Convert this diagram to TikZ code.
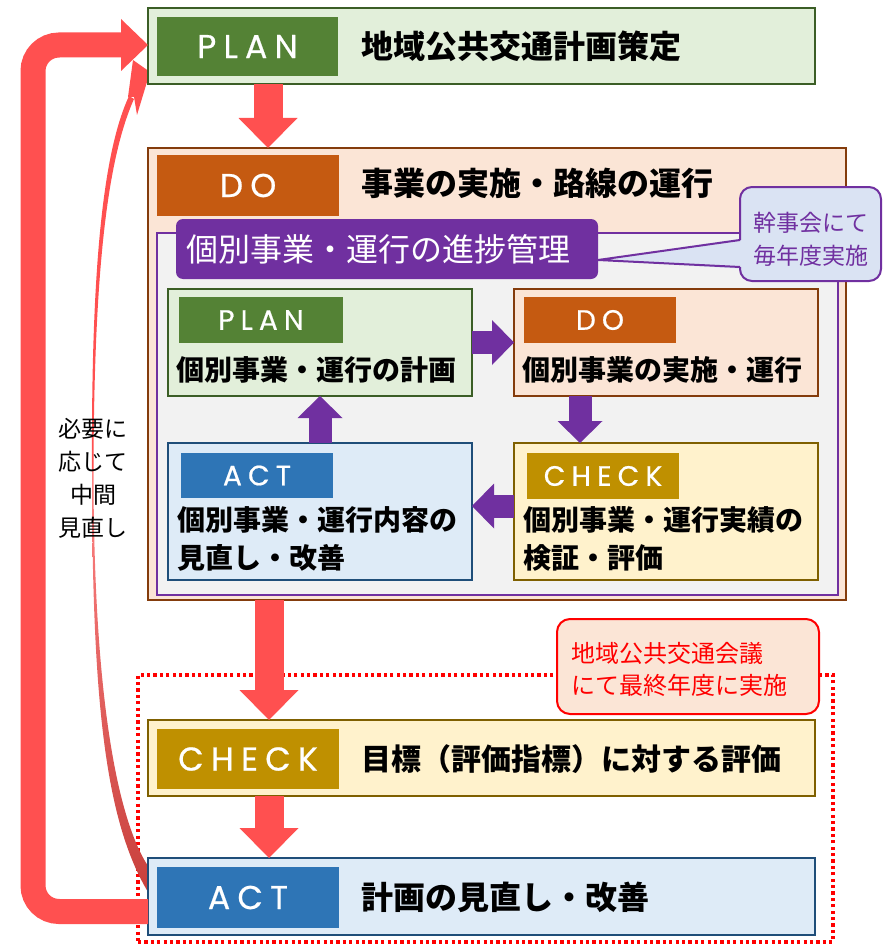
\documentclass[tikz,border=0pt]{standalone}
\usepackage{fontspec}
\setmainfont{Noto Sans CJK JP}
\newfontfamily\labfont[FakeBold=0.6]{Poppins}
\usetikzlibrary{arrows.meta}
\definecolor{planlab}{HTML}{548235}
\definecolor{planfill}{HTML}{E2EFDA}
\definecolor{planborder}{HTML}{3B5E26}
\definecolor{dolab}{HTML}{C55A11}
\definecolor{dofill}{HTML}{FBE5D6}
\definecolor{doborder}{HTML}{843C0C}
\definecolor{checklab}{HTML}{BF9000}
\definecolor{checkfill}{HTML}{FFF2CC}
\definecolor{checkborder}{HTML}{7F6000}
\definecolor{actlab}{HTML}{2E75B6}
\definecolor{actfill}{HTML}{DEEBF7}
\definecolor{actborder}{HTML}{1F4E79}
\definecolor{mypurple}{HTML}{7030A0}
\definecolor{innerfill}{HTML}{F2F2F2}
\definecolor{arrowred}{HTML}{FF5050}
\definecolor{darkarrow}{HTML}{C8403C}
\definecolor{calloutblue}{HTML}{DAE3F3}
\newcommand\ls{\hspace{0.22em}}
\newcommand\fmain{\bfseries\fontsize{32}{36}\selectfont}
\newcommand\finner{\bfseries\fontsize{28}{38}\selectfont}
\newcommand\fbiglab{\labfont\fontsize{33}{33}\selectfont}
\newcommand\fsmalllab{\labfont\fontsize{28}{28}\selectfont}
\begin{document}
\begin{tikzpicture}[x=1pt,y=-1pt,
  box/.style={draw, line width=2pt, inner sep=0pt, outer sep=0pt, anchor=north west},
  lab/.style={inner sep=0pt, outer sep=0pt, anchor=north west, text=white},
  bigred/.style={draw=arrowred, line width=29pt, -{Triangle[length=30pt,width=59pt,line width=0pt]}},
  purparrow/.style={draw=mypurple, line width=23pt, -{Triangle[length=22pt,width=45pt,line width=0pt]}},
  looparrow/.style={draw=arrowred, line width=25pt, rounded corners=26pt, -{Triangle[length=27pt,width=52pt,line width=0pt]}},
  maintxt/.style={anchor=west, inner sep=0pt, font=\fmain},
  innertxt/.style={anchor=west, inner sep=0pt, align=left, font=\finner},
]
\useasboundingbox (0,0) rectangle (884,944);

% dotted meeting frame
\node[draw=red, line width=3.2pt, dash pattern=on 3.2pt off 3.2pt, inner sep=0pt, outer sep=0pt,
      minimum width=695pt, minimum height=267pt, anchor=north west] (meeting) at (138,675) {};

% thin curved arrow (mid-term review)
\fill[arrowred] (92,470) .. controls (91,260) and (104,150) .. (129,96) -- (134,99) .. controls (109,155) and (94,260) .. (93.5,470) -- cycle;
\fill[arrowred] (133,60) -- (150,72) -- (137,115) -- (134,97) -- (128,97) -- cycle;
\shade[top color=arrowred!70, bottom color=darkarrow] (92,470) .. controls (92,700) and (105,820) .. (148,892) -- (148,866) .. controls (118,820) and (93.5,700) .. (93.5,470) -- cycle;

% main boxes
\node[box, fill=planfill, draw=planborder, minimum width=667pt, minimum height=76pt] (plan) at (148,8) {};
\node[box, fill=dofill, draw=doborder, minimum width=698pt, minimum height=452pt] (do) at (148,148) {};
\node[box, fill=checkfill, draw=checkborder, minimum width=667pt, minimum height=76pt] (check) at (148,720) {};
\node[box, fill=actfill, draw=actborder, minimum width=667pt, minimum height=77pt] (act) at (148,858) {};

% big loop arrow
\draw[looparrow] ([yshift=-15pt]act.west) -| ([xshift=-115pt,yshift=1pt]plan.west) -- ([yshift=1pt]plan.west);

% labels
\node[lab, fill=planlab, minimum width=181pt, minimum height=59pt, font=\fbiglab] (planlab) at (157,17) {P\ls L\ls A\ls N};
\node[maintxt] (plantxt) at (361,46) {地域公共交通計画策定};
\node[lab, fill=dolab, minimum width=182pt, minimum height=61pt, font=\fbiglab] (dolab) at (157,155) {D\ls O};
\node[maintxt] (dotxt) at (361,183) {事業の実施・路線の運行};
\node[lab, fill=checklab, minimum width=182pt, minimum height=60pt, font=\fbiglab] (checklab) at (157,729) {C\ls H\ls E\ls C\ls K};
\node[maintxt, font=\bfseries\fontsize{30}{36}\selectfont] (checktxt) at (361,759) {目標（評価指標）に対する評価};
\node[lab, fill=actlab, minimum width=182pt, minimum height=61pt, font=\fbiglab] (actlab) at (157,867) {A\ls C\ls T};
\node[maintxt] (acttxt) at (361,897) {計画の見直し・改善};

% inner progress frame
\node[box, fill=innerfill, draw=mypurple, line width=2.5pt, minimum width=681pt, minimum height=362pt] (inner) at (157,233) {};
\node[anchor=north west, fill=mypurple, rounded corners=7pt, inner sep=0pt, outer sep=0pt,
      minimum width=422pt, minimum height=60pt] (hdr) at (176,219) {};
\node[anchor=west, inner sep=0pt, text=white, font=\fontsize{32}{36}\selectfont] (hdrtxt) at (186,249) {個別事業・運行の進捗管理};

% callout (blue)
\fill[calloutblue] ([yshift=-11pt]hdr.east) -- (745,238) -- (745,269) -- cycle;
\node[anchor=north west, draw=mypurple, line width=2pt, fill=calloutblue, rounded corners=12pt, inner sep=0pt, outer sep=0pt,
      minimum width=141pt, minimum height=94pt] (callout) at (740,187) {};
\fill[calloutblue] ([yshift=-11pt]hdr.east) -- (742.5,240) -- (742.5,267) -- cycle;
\draw[mypurple, line width=2pt, line join=round] (740,240) -- ([yshift=-11pt]hdr.east) -- (740,267);
\node[align=center, text=mypurple, inner sep=0pt, font=\fontsize{23}{33}\selectfont] (callouttxt) at (811,239) {幹事会にて\\毎年度実施};

% inner boxes
\node[box, fill=planfill, draw=planborder, minimum width=304pt, minimum height=107pt] (iplan) at (168,289) {};
\node[lab, fill=planlab, minimum width=164pt, minimum height=46pt, font=\fsmalllab] (iplanlab) at (179,297) {P\ls L\ls A\ls N};
\node[innertxt] (iplantxt) at (176,370) {個別事業・運行の計画};

\node[box, fill=dofill, draw=doborder, minimum width=304pt, minimum height=107pt] (ido) at (514,289) {};
\node[lab, fill=dolab, minimum width=152pt, minimum height=46pt, font=\fsmalllab] (idolab) at (524,297) {D\ls O};
\node[innertxt] (idotxt) at (522,370) {個別事業の実施・運行};

\node[box, fill=checkfill, draw=checkborder, minimum width=304pt, minimum height=137pt] (icheck) at (514,443) {};
\node[lab, fill=checklab, minimum width=152pt, minimum height=46pt, font=\fsmalllab] (ichecklab) at (527,453) {C\ls H\ls E\ls C\ls K};
\node[innertxt] (ichecktxt) at (523,539) {個別事業・運行実績の\\検証・評価};

\node[box, fill=actfill, draw=actborder, minimum width=304pt, minimum height=137pt] (iact) at (168,443) {};
\node[lab, fill=actlab, minimum width=152pt, minimum height=45pt, font=\fsmalllab] (iactlab) at (181,453) {A\ls C\ls T};
\node[innertxt] (iacttxt) at (177,539) {個別事業・運行内容の\\見直し・改善};

% purple arrows
\draw[purparrow] (iplan.east) -- (ido.west);
\draw[purparrow] ([xshift=66pt]ido.south west) -- ([xshift=66pt]icheck.north west);
\draw[purparrow] ([yshift=5.5pt]icheck.west) -- ([yshift=5.5pt]iact.east);
\draw[purparrow] (iact.north) -- (iplan.south);

% red vertical arrows
\draw[bigred] ([xshift=120pt]plan.south west) -- ([xshift=120pt]do.north west);
\draw[bigred] ([xshift=121pt]do.south west) -- ([xshift=121pt]check.north west);
\draw[bigred] ([xshift=121pt]check.south west) -- ([xshift=121pt]act.north west);

% red callout
\node[anchor=north west, draw=red, line width=2pt, fill=dofill, rounded corners=13pt, inner sep=0pt, outer sep=0pt,
      minimum width=262pt, minimum height=95pt] (meetcallout) at (557,619) {};
\node[anchor=west, align=left, text=red, inner sep=0pt, font=\fontsize{24}{32}\selectfont] (meettxt) at (571,669) {地域公共交通会議\\にて最終年度に実施};

% side text
\node[align=center, inner sep=0pt, font=\fontsize{23}{33}\selectfont] (midtxt) at (93,478) {必要に\\応じて\\中間\\見直し};
\end{tikzpicture}
\end{document}
